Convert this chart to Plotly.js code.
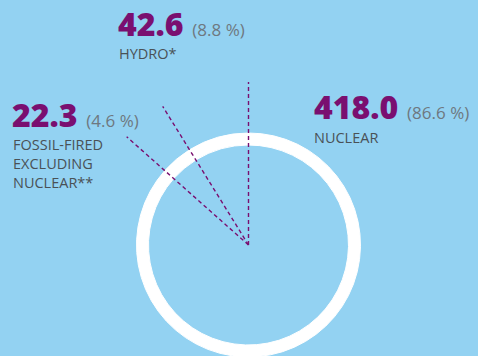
<!DOCTYPE html>
<html><head><meta charset="utf-8">
<script src="https://cdn.plot.ly/plotly-3.0.1.min.js"></script>
<style>html,body{margin:0;padding:0;overflow:hidden;background:#93d2f2}</style>
</head><body><div id="chart" style="width:478px;height:370px"></div>
<script>
// ---- data ----
const categories = ['NUCLEAR', 'FOSSIL-FIRED<br>EXCLUDING<br>NUCLEAR**', 'HYDRO*'];
const values = [418.0, 22.3, 42.6];
const percents = [86.6, 4.6, 8.8];

// ---- layout helpers (pixel positions) ----
const W = 478, H = 370;
const cx = 248.5, cy = 245, R = 112, rInner = 100;
const px = x => x / W;
const py = y => 1 - y / H;

const BG = '#93d2f2', PURPLE = '#7a0f70', GRAY = '#6e7880', DARK = '#4a5156';
const FONT = 'Open Sans, Noto Sans, sans-serif';

// label anchors (number line top-left, label top-left) per category
const numPos = [[312, 83], [10, 91], [116, 0]];
const labPos = [[312, 126], [11, 133], [117, 42]];
const leaderLen = 163;

const annotations = [];
const shapes = [];
const total = values.reduce((a, b) => a + b, 0);
let cum = 0;
values.forEach((v, i) => {
  annotations.push({
    xref: 'paper', yref: 'paper', x: px(numPos[i][0]), y: py(numPos[i][1]),
    xanchor: 'left', yanchor: 'top', showarrow: false, align: 'left',
    text: '<span style="font-size:32px;font-weight:800;color:' + PURPLE + '">' + v.toFixed(1) +
          '</span>  <span style="font-size:17px;color:' + GRAY + '">(' + percents[i].toFixed(1) + ' %)</span>',
    font: {family: FONT, size: 17, color: GRAY}
  });
  annotations.push({
    xref: 'paper', yref: 'paper', x: px(labPos[i][0]), y: py(labPos[i][1]),
    xanchor: 'left', yanchor: 'top', showarrow: false, align: 'left',
    text: categories[i],
    font: {family: FONT, size: 14.5, color: DARK}
  });
  // leader line along slice start boundary (clockwise from 12 o'clock)
  const ang = cum / total * 2 * Math.PI;
  cum += v;
  shapes.push({
    type: 'line', xref: 'paper', yref: 'paper',
    x0: px(cx), y0: py(cy),
    x1: px(cx + leaderLen * Math.sin(ang)), y1: py(cy - leaderLen * Math.cos(ang)),
    line: {color: PURPLE, width: 1.4, dash: '4px,3px'}, layer: 'above'
  });
});

const trace = {
  type: 'pie', values: values, labels: categories.map(c => c.replace(/<br>/g, ' ')),
  sort: false, direction: 'clockwise', rotation: 0, hole: rInner / R,
  marker: {colors: values.map(() => '#ffffff'), line: {color: '#ffffff', width: 1}},
  textinfo: 'none', hoverinfo: 'none', showlegend: false,
  domain: {x: [px(cx - R), px(cx + R)], y: [1 - (cy + R) / H, 1 - (cy - R) / H]}
};

Plotly.newPlot('chart', [trace], {
  width: W, height: H, margin: {l: 0, r: 0, t: 0, b: 0},
  paper_bgcolor: BG, plot_bgcolor: BG,
  annotations: annotations, shapes: shapes, showlegend: false
}, {staticPlot: true});
</script></body></html>
